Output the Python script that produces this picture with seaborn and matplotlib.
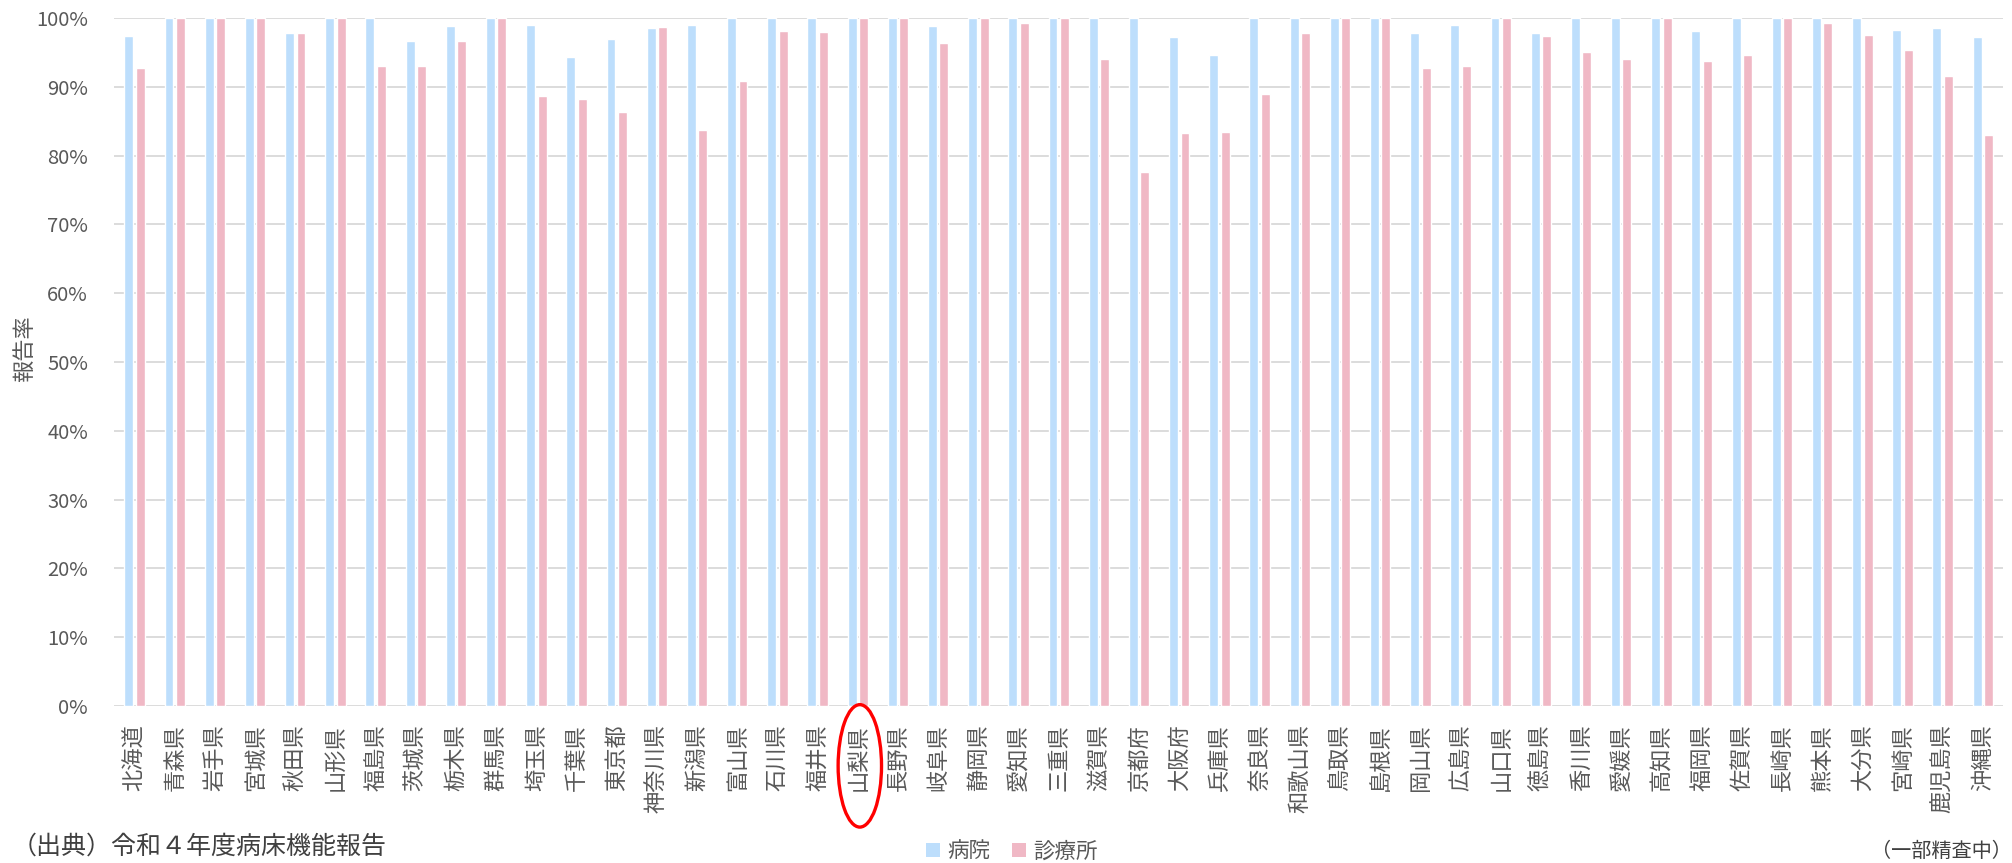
import matplotlib
matplotlib.use("Agg")
import matplotlib.pyplot as plt
import matplotlib.transforms as mtransforms
from matplotlib.patches import Ellipse, Patch
from matplotlib.ticker import FuncFormatter
import pandas as pd
import seaborn as sns

# 都道府県別の病床機能報告 報告率（%）
prefectures = [
    "北海道", "青森県", "岩手県", "宮城県", "秋田県", "山形県", "福島県",
    "茨城県", "栃木県", "群馬県", "埼玉県", "千葉県", "東京都", "神奈川県",
    "新潟県", "富山県", "石川県", "福井県", "山梨県", "長野県", "岐阜県",
    "静岡県", "愛知県", "三重県", "滋賀県", "京都府", "大阪府", "兵庫県",
    "奈良県", "和歌山県", "鳥取県", "島根県", "岡山県", "広島県", "山口県",
    "徳島県", "香川県", "愛媛県", "高知県", "福岡県", "佐賀県", "長崎県",
    "熊本県", "大分県", "宮崎県", "鹿児島県", "沖縄県",
]
hospital = [
    97.4, 100, 100, 100, 97.9, 100, 100, 96.7, 98.9, 100, 99.0, 94.4, 97.0, 98.6,
    99.0, 100, 100, 100, 100, 100, 98.8, 100, 100, 100, 100, 100, 97.2, 94.6,
    100, 100, 100, 100, 97.9, 99.0, 100, 97.8, 100, 100, 100, 98.2, 100, 100,
    100, 100, 98.3, 98.5, 97.3,
]
clinic = [
    92.8, 100, 100, 100, 97.9, 100, 93.1, 93.0, 96.7, 100, 88.7, 88.2, 86.4, 98.7,
    83.7, 90.9, 98.2, 98.0, 100, 100, 96.4, 100, 99.3, 100, 94.0, 77.7, 83.3, 83.5,
    88.9, 97.9, 100, 100, 92.8, 93.1, 100, 97.4, 95.1, 94.1, 100, 93.7, 94.7, 100,
    99.3, 97.6, 95.3, 91.6, 83.0,
]
series_names = ["病院", "診療所"]
series_colors = ["#BDDEFC", "#F0B8C5"]
highlight = "山梨県"
y_ticks = list(range(0, 101, 10))

df = pd.DataFrame({
    "都道府県": prefectures * 2,
    "報告率": hospital + clinic,
    "区分": [series_names[0]] * len(prefectures) + [series_names[1]] * len(prefectures),
})

sns.set_theme(style="white")
plt.rcParams["font.family"] = ["Noto Sans CJK JP", "DejaVu Sans"]

text_color = "#595959"
grid_color = "#D9D9D9"

fig = plt.figure(figsize=(20.12, 8.63), dpi=100)
ax = fig.add_axes([0.0569, 0.1819, 0.9386, 0.7971])

sns.barplot(
    data=df, x="都道府県", y="報告率", hue="区分",
    order=prefectures, hue_order=series_names, palette=series_colors,
    width=0.57, gap=0.22, saturation=1, legend=False, ax=ax,
)

ax.set_ylim(0, 100)
ax.set_xlim(-0.5, len(prefectures) - 0.5)
ax.set_yticks(y_ticks)
ax.yaxis.set_major_formatter(FuncFormatter(lambda v, _: f"{v:.0f}%"))
ax.grid(axis="y", color=grid_color, linewidth=1.3)
ax.set_axisbelow(True)
for s in ax.spines.values():
    s.set_visible(False)

ax.tick_params(axis="y", length=0, pad=19, labelsize=14.5, labelcolor=text_color)
ax.tick_params(axis="x", length=0, pad=13, labelsize=16, labelcolor=text_color)
for lbl in ax.get_xticklabels():
    lbl.set_rotation(90)

ax.set_xlabel("")
ax.set_ylabel("報告率", fontsize=16, color=text_color)
ax.yaxis.set_label_coords(-0.0415, 0.52)

# 山梨県のラベルを赤い楕円で囲む
idx = prefectures.index(highlight)
trans = mtransforms.blended_transform_factory(ax.transData, ax.transAxes)
ax.add_patch(Ellipse((idx + 0.05, -0.087), width=1.08, height=0.178,
                     transform=trans, fill=False, edgecolor="#FF0000",
                     linewidth=2.4, clip_on=False))

handles = [Patch(facecolor=c, edgecolor="none", label=n)
           for n, c in zip(series_names, series_colors)]
fig.legend(handles=handles, loc="center", bbox_to_anchor=(0.503, 0.0135),
           ncol=2, frameon=False, fontsize=15.5, labelcolor=text_color,
           handlelength=0.65, handleheight=0.65, handletextpad=0.35,
           columnspacing=1.0, borderaxespad=0)

fig.text(0.006, 0.0185, "（出典）令和４年度病床機能報告", fontsize=18,
         color="#404040", ha="left", va="center")
fig.text(1.0, 0.001, "（一部精査中）", fontsize=14.5, color="#404040",
         ha="right", va="bottom")

fig.savefig("out.png", dpi=100)
